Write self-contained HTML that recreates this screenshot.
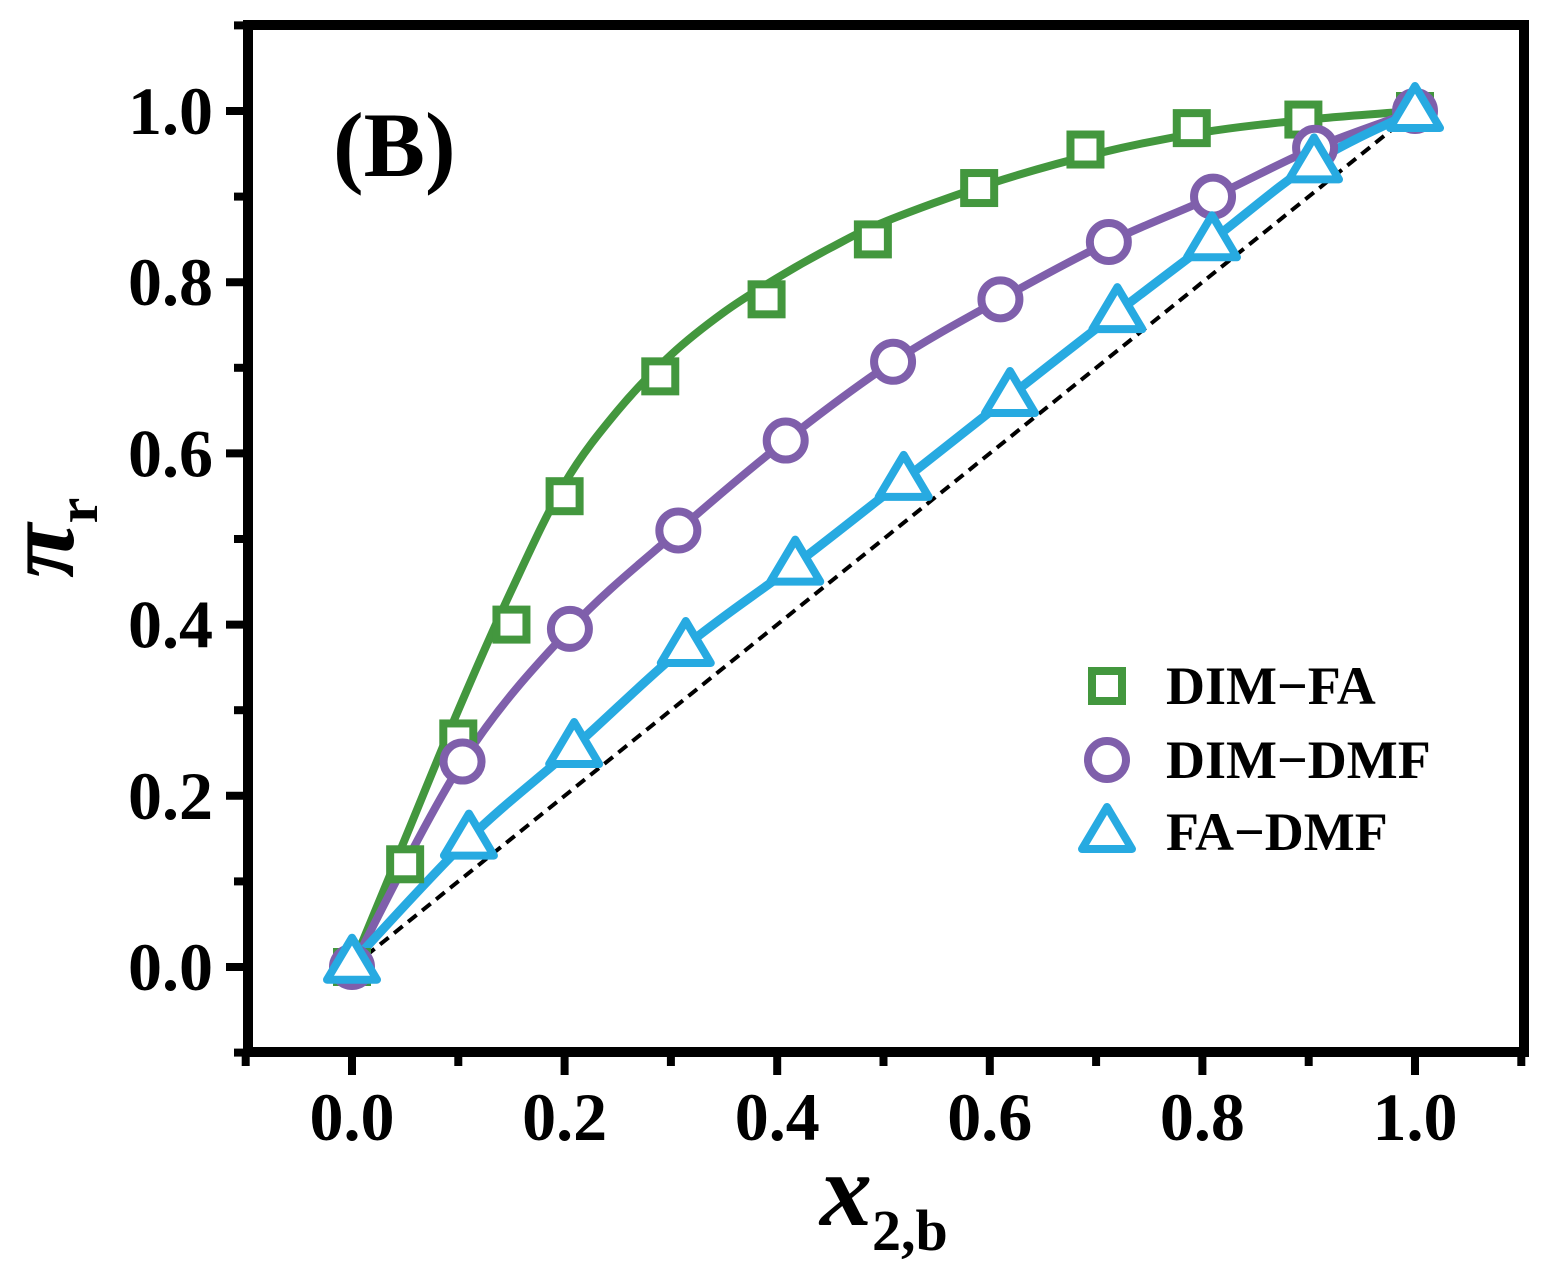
<!DOCTYPE html>
<html><head><meta charset="utf-8"><style>
body{margin:0;background:#fff}
text{font-family:"Liberation Serif","Times New Roman",serif;font-weight:bold}
</style></head><body>
<svg id="chart" width="1561" height="1286" xmlns="http://www.w3.org/2000/svg" style="position:absolute;left:0;top:0">
<g id="plot"></g>
<text x="820" y="1225" font-family="Liberation Serif, serif" font-weight="bold"><tspan font-style="italic" font-size="104">x</tspan><tspan font-size="58" dy="25">2,b</tspan></text>
<text transform="translate(73,578) rotate(-90)" font-family="Liberation Serif, serif" font-weight="bold"><tspan font-style="italic" font-size="100">π</tspan><tspan font-size="58" dy="24">r</tspan></text>
</svg>
<script>
const xTicks=[0,0.2,0.4,0.6,0.8,1.0];
const yTicks=[0,0.2,0.4,0.6,0.8,1.0];
const faX=[0,0.05,0.1,0.15,0.2,0.29,0.39,0.49,0.59,0.69,0.79,0.895,1.0];
const faY=[0,0.12,0.267,0.40,0.55,0.69,0.78,0.85,0.91,0.955,0.98,0.99,1.0];
const faFitX=[0,0.05,0.1,0.15,0.2,0.25,0.3,0.35,0.4,0.45,0.5,0.6,0.7,0.8,0.9,1.0];
const faFitY=[0,0.15,0.30,0.44,0.565,0.65,0.715,0.765,0.805,0.84,0.87,0.915,0.95,0.975,0.99,1.0];
const dmfX=[0,0.104,0.205,0.307,0.408,0.509,0.61,0.712,0.81,0.906,1.0];
const dmfY=[0,0.24,0.395,0.51,0.615,0.707,0.78,0.847,0.90,0.957,1.0];
const fdX=[0,0.11,0.209,0.314,0.417,0.519,0.619,0.72,0.809,0.905,1.0];
const fdY=[0.005,0.15,0.257,0.375,0.47,0.569,0.667,0.765,0.849,0.94,1.0];
const X=v=>352+v*1063, Y=v=>967-v*856;
const g=document.getElementById('plot');
const NS='http://www.w3.org/2000/svg';
function mk(t,a,p){const e=document.createElementNS(NS,t);for(const k in a)e.setAttribute(k,a[k]);(p||g).appendChild(e);return e;}
const FF='Liberation Serif, serif';
let fr=mk('rect',{x:248,y:25,width:1276,height:1027,fill:'none',stroke:'#000','stroke-width':10});


for(let i=-1;i<=11;i++){const v=i/10,maj=(i>=0&&i%2==0);
 let t=mk('line',{x1:X(v),x2:X(v),y1:1052,y2:maj?1075:1066,stroke:'#000','stroke-width':8});
 
 
 let u=mk('line',{y1:Y(v),y2:Y(v),x1:248,x2:maj?226:234,stroke:'#000','stroke-width':8});
 
 }
xTicks.forEach(v=>{let t=mk('text',{x:X(v),y:1140,'text-anchor':'middle','font-size':68,'font-family':FF,'font-weight':'bold'});t.textContent=v.toFixed(1);
 
 });
yTicks.forEach(v=>{let t=mk('text',{x:213,y:Y(v)+23,'text-anchor':'end','font-size':68,'font-family':FF,'font-weight':'bold'});t.textContent=v.toFixed(1);
 
 });
let d=mk('line',{x1:X(0),y1:Y(0),x2:X(1),y2:Y(1),stroke:'#000','stroke-width':4,'stroke-dasharray':'11,7'});


function smooth(xs,ys){let p=xs.map((x,i)=>[X(x),Y(ys[i])]);let s=`M${p[0][0]},${p[0][1]}`;
 for(let i=0;i<p.length-1;i++){const p0=p[i-1]||p[i],p1=p[i],p2=p[i+1],p3=p[i+2]||p2;
 s+=` C${p1[0]+(p2[0]-p0[0])/6},${p1[1]+(p2[1]-p0[1])/6} ${p2[0]-(p3[0]-p1[0])/6},${p2[1]-(p3[1]-p1[1])/6} ${p2[0]},${p2[1]}`;}return s;}
const G='#43973e',P='#7f5fab',B='#27aae1';
let l1=mk('path',{d:smooth(faFitX,faFitY),fill:'none',stroke:G,'stroke-width':8});


let l2=mk('path',{d:smooth(dmfX,dmfY),fill:'none',stroke:P,'stroke-width':8});


let l3=mk('path',{d:smooth(fdX,fdY),fill:'none',stroke:B,'stroke-width':9});


function sq(cx,cy){return mk('rect',{x:cx-15,y:cy-15,width:30,height:30,fill:'#fff',stroke:G,'stroke-width':8});}
function ci(cx,cy){return mk('circle',{cx:cx,cy:cy,r:19,fill:'#fff',stroke:P,'stroke-width':8});}
function tr(cx,cy){return mk('polygon',{points:`${cx},${cy-25} ${cx+25},${cy+17} ${cx-25},${cy+17}`,fill:'#fff',stroke:B,'stroke-width':8,'stroke-linejoin':'round'});}
faX.forEach((x,i)=>{let m=sq(X(x),Y(faY[i]));
 
 });
dmfX.forEach((x,i)=>{let m=ci(X(x),Y(dmfY[i]));
 
 });
fdX.forEach((x,i)=>{let m=tr(X(x),Y(fdY[i]));
 
 });
let a=sq(1107,686);
let b=ci(1107,760);
let c=tr(1107,832);
[['DIM\u2212FA',686,'legend-label-dim-fa'],['DIM\u2212DMF',760,'legend-label-dim-dmf'],['FA\u2212DMF',832,'legend-label-fa-dmf']].forEach(r=>{
 let t=mk('text',{x:1166,y:r[1]+18,'font-size':54,'font-family':FF,'font-weight':'bold'});t.textContent=r[0];
 
 });
let lab=mk('text',{x:333,y:176,'font-size':92,'font-family':FF,'font-weight':'bold'});lab.textContent='(B)';


</script>
</body></html>
